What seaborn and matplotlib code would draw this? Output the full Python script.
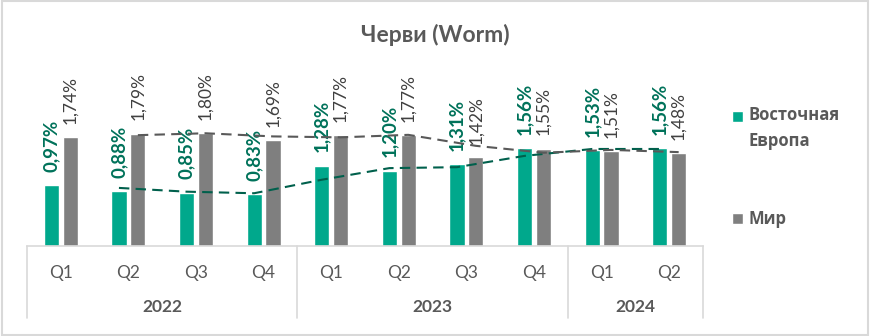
import matplotlib
matplotlib.use("Agg")
import matplotlib.pyplot as plt
import seaborn as sns
import pandas as pd
from matplotlib.patches import Rectangle, Patch
from matplotlib.lines import Line2D
from matplotlib.legend_handler import HandlerPatch

years = ["2022", "2022", "2022", "2022", "2023", "2023", "2023", "2023", "2024", "2024"]
quarters = ["Q1", "Q2", "Q3", "Q4", "Q1", "Q2", "Q3", "Q4", "Q1", "Q2"]
east_europe = [0.97, 0.88, 0.85, 0.83, 1.28, 1.20, 1.31, 1.56, 1.53, 1.56]
world = [1.74, 1.79, 1.80, 1.69, 1.77, 1.77, 1.42, 1.55, 1.51, 1.48]
series_names = ["Восточная Европа", "Мир"]
title = "Черви (Worm)"

sns.set_theme(style="white")
plt.rcParams["font.family"] = ["Lato", "DejaVu Sans"]

TEAL = "#00A88C"
GRAY = "#7F7F7F"
TEAL_TXT = "#00725A"
GRAY_TXT = "#404040"
TEAL_TREND = "#00604C"
GRAY_TREND = "#595959"
AXIS = "#D9D9D9"
TXT = "#595959"

cats = [f"{y} {q}" for y, q in zip(years, quarters)]
df = pd.DataFrame({
    "cat": cats * 2,
    "value": east_europe + world,
    "series": [series_names[0]] * len(cats) + [series_names[1]] * len(cats),
})

W, H = 871, 336
fig = plt.figure(figsize=(W / 100, H / 100), dpi=100)
ax_left, ax_right, ax_bottom, ax_top = 27, 703, 246, 40
ax = fig.add_axes([ax_left / W, 1 - ax_bottom / H, (ax_right - ax_left) / W, (ax_bottom - ax_top) / H])

sns.barplot(data=df, x="cat", y="value", hue="series", order=cats,
            hue_order=series_names, palette=[TEAL, GRAY], width=0.56, gap=0.2,
            ax=ax, legend=False, saturation=1)

px_per_unit = 62.8
ax.set_ylim(0, (ax_bottom - ax_top) / px_per_unit)
ax.set_xlim(-0.5, len(cats) - 0.5)

# data labels
for cont, vals, col, wt, fs in [(ax.containers[0], east_europe, TEAL_TXT, "bold", 13.5),
                                (ax.containers[1], world, GRAY_TXT, "normal", 12.5)]:
    labels = [f"{v:.2f}%".replace(".", ",") for v in vals]
    ax.bar_label(cont, labels=labels, rotation=90, padding=9.5,
                 color=col, fontweight=wt, fontsize=fs)

# moving-average trend lines (period 2)
off = 0.14
xs = list(range(len(cats)))
ee_ma = pd.Series(east_europe).rolling(2).mean()
w_ma = pd.Series(world).rolling(2).mean()
ax.plot([x - off for x in xs[1:]], ee_ma[1:], color=TEAL_TREND, lw=1.5,
        linestyle=(0, (5, 3)), zorder=3)
ax.plot([x + off for x in xs[1:]], w_ma[1:], color=GRAY_TREND, lw=1.5,
        linestyle=(0, (5, 3)), zorder=3)

# axes styling
for s in ["top", "right", "left"]:
    ax.spines[s].set_visible(False)
ax.spines["bottom"].set_color(AXIS)
ax.spines["bottom"].set_linewidth(1.2)
ax.set_yticks([])
ax.set_xlabel("")
ax.set_ylabel("")
ax.set_xticks(xs)
ax.set_xticklabels(quarters, color=TXT, fontsize=12.5)
ax.tick_params(axis="x", length=0, pad=14)

# year group labels and separators
trans = ax.get_xaxis_transform()
groups = {}
for i, y in enumerate(years):
    groups.setdefault(y, []).append(i)
sep_bottom = -(318 - ax_bottom) / (ax_bottom - ax_top)
year_y = -(307 - ax_bottom) / (ax_bottom - ax_top)
bounds = [-0.5]
for y, idx in groups.items():
    ax.text((idx[0] + idx[-1]) / 2, year_y, y, transform=trans, ha="center",
            va="center", color=TXT, fontsize=12.5, fontweight="bold")
    bounds.append(idx[-1] + 0.5)
for b in bounds:
    ax.add_line(Line2D([b, b], [0, sep_bottom], transform=trans, color=AXIS,
                       lw=1.2, clip_on=False))

# title
fig.text(435 / W, 1 - 35 / H, title, ha="center", va="center", color=TXT,
         fontsize=16.5, fontweight="bold")

# legend (first marker aligned with the first text line)
def first_line_patch(legend, orig_handle, xdescent, ydescent, width, height, fontsize):
    return Rectangle((-xdescent, -ydescent + 9), width, height)

handles = [Patch(facecolor=TEAL), Patch(facecolor=GRAY)]
leg = fig.legend(handles, ["Восточная\nЕвропа", "Мир"], loc="upper left",
                 bbox_to_anchor=(717 / W, 1 - 91 / H), frameon=False,
                 handlelength=0.65, handleheight=0.65, handletextpad=0.35,
                 labelspacing=3.6, prop={"family": "Open Sans", "size": 12, "weight": "bold"},
                 labelcolor=TXT,
                 handler_map={handles[0]: HandlerPatch(patch_func=first_line_patch)})
for t in leg.get_texts():
    t.set_linespacing(1.6)

# outer border
fig.patches.append(Rectangle((0.002, 0.003), 0.995, 0.993, transform=fig.transFigure,
                             fill=False, edgecolor=AXIS, lw=1.5))

fig.savefig("out.png", dpi=100)
